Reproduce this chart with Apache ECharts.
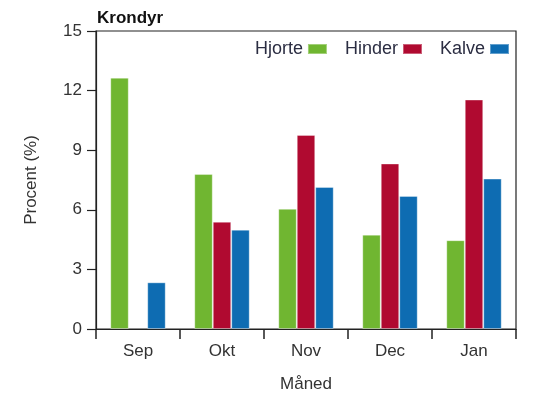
<!DOCTYPE html>
<html>
<head>
<meta charset="utf-8">
<script src="https://cdn.jsdelivr.net/npm/echarts@6/dist/echarts.min.js"></script>
<style>
  html, body { margin: 0; padding: 0; background: #fff; }
  #chart { width: 549px; height: 398px; }
</style>
</head>
<body>
<div id="chart"></div>
<script>
const months = ['Sep', 'Okt', 'Nov', 'Dec', 'Jan'];
const hjorte = [12.65, 7.8, 6.05, 4.75, 4.47];
const hinder = [null, 5.4, 9.77, 8.33, 11.55];
const kalve = [2.35, 5.0, 7.15, 6.7, 7.57];

const font = 'Liberation Sans, Arial, sans-serif';
const myChart = echarts.init(document.getElementById('chart'));

function bar(name, data, color) {
  return {
    name: name,
    type: 'bar',
    data: data,
    barGap: '0%',
    barCategoryGap: '34%',
    itemStyle: { color: color, borderColor: 'rgba(255,255,255,0.35)', borderWidth: 1 }
  };
}

const option = {
  animation: false,
  title: {
    text: 'Krondyr',
    left: 92, top: 5,
    textStyle: { fontFamily: font, fontSize: 17, fontWeight: 'bold', color: '#111' }
  },
  legend: {
    right: 34, top: 35,
    align: 'right',
    itemWidth: 19, itemHeight: 10,
    itemGap: 17,
    icon: 'rect',
    textStyle: { fontFamily: font, fontSize: 18, color: '#2b2d42', padding: [0, 0, 0, 1] }
  },
  grid: {
    left: 96, right: 33, top: 31, bottom: 69,
    outerBoundsMode: 'none',
    containLabel: false,
    show: true, borderColor: '#222', borderWidth: 1.2
  },
  xAxis: {
    type: 'category',
    data: months,
    name: 'Måned',
    nameLocation: 'middle',
    nameGap: 47,
    nameTextStyle: { fontFamily: font, fontSize: 17, color: '#333' },
    axisLine: { lineStyle: { color: '#222', width: 1.2 } },
    axisTick: { show: true, length: 10, inside: false, lineStyle: { color: '#222', width: 1.5 } },
    axisLabel: { fontFamily: font, fontSize: 17, color: '#333', margin: 14 },
    splitLine: { show: false }
  },
  yAxis: {
    type: 'value',
    min: 0, max: 15, interval: 3,
    name: 'Procent (%)',
    nameLocation: 'middle',
    nameGap: 56,
    nameTextStyle: { fontFamily: font, fontSize: 17, color: '#333' },
    axisLine: { show: true, lineStyle: { color: '#222', width: 1.2 } },
    axisTick: { show: true, length: 9, lineStyle: { color: '#222', width: 1.2 } },
    axisLabel: { fontFamily: font, fontSize: 17, color: '#333', margin: 14 },
    splitLine: { show: false }
  },
  series: [
    bar('Hjorte', hjorte, '#70b631'),
    bar('Hinder', hinder, '#b00a30'),
    bar('Kalve', kalve, '#0e6cb2')
  ]
};
myChart.setOption(option);
</script>
</body>
</html>
